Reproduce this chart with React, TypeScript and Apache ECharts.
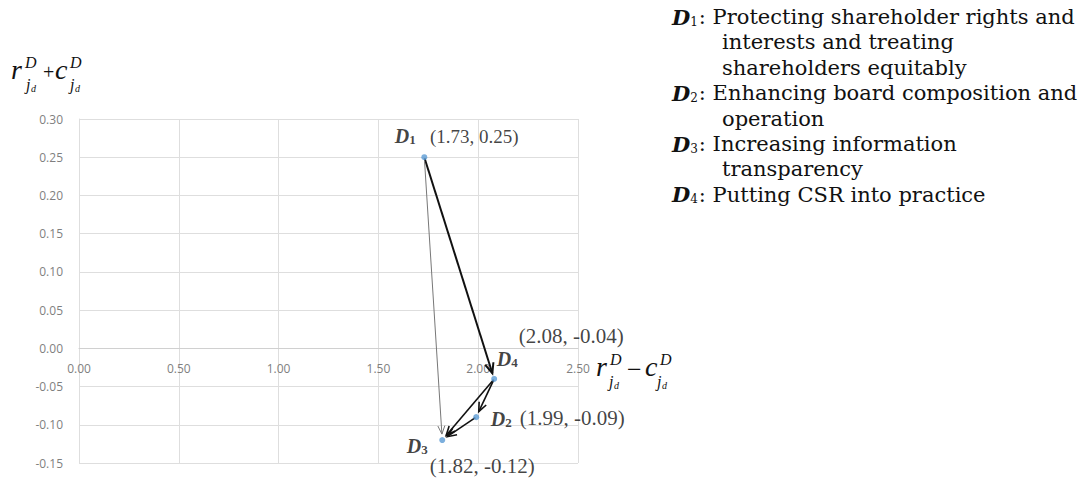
import React, { useEffect, useRef } from 'react';
import * as echarts from 'echarts';

// ---------- data ----------
const NODE_INDEX = ['1', '2', '3', '4'];
const R_MINUS_C = [1.73, 1.99, 1.82, 2.08];
const R_PLUS_C = [0.25, -0.09, -0.12, -0.04];

const EDGE_FROM = [0, 0, 3, 3, 1];
const EDGE_TO = [3, 2, 1, 2, 2];

const X_MIN = 0;
const X_MAX = 2.5;
const X_STEP = 0.5;
const Y_MIN = -0.15;
const Y_MAX = 0.3;
const Y_STEP = 0.05;

const LEGEND_KEYS = ['1', '', '', '2', '', '3', '', '4'];
const LEGEND_TEXTS = [
  ': Protecting shareholder rights and',
  'interests and treating',
  'shareholders equitably',
  ': Enhancing board composition and',
  'operation',
  ': Increasing information',
  'transparency',
  ': Putting CSR into practice',
];

// ---------- styles / layout (not data) ----------
const EDGE_COLOR = ['#111', '#777', '#111', '#111', '#111'];
const EDGE_WIDTH = [2, 1, 1.6, 1.6, 1.6];
const EDGE_HEAD = [11, 9, 10, 10, 10];
const NAME_OFFSETS = [[-19, -21], [25, 2], [-25, 6], [13, -20]];
const VALUE_OFFSETS = [[50, -21], [96, 1], [40, 26], [77, -43]];
const VALUE_SIZES = [19, 21, 21, 21];

const SERIF = '"Liberation Serif", "Times New Roman", serif';
const LEGEND_FONT = '"DejaVu Serif", serif';

type TitleLayout = {
  d: number; j: number; dd: number; op: number; opSize: number; c: number; d2: number; j2: number; dd2: number;
};

function mathTitle(x0: number, baseY: number, op: string, L: TitleLayout) {
  const it = (t: string, x: number, y: number, size: number, style = 'italic') => ({
    type: 'text',
    x,
    y,
    style: {
      text: t,
      font: `${style} ${size}px ${SERIF}`,
      fill: '#111',
      align: 'left',
      verticalAlign: 'middle',
    },
  });
  const b = baseY;
  return {
    type: 'group',
    children: [
      it('r', x0, b - 10, 28),
      it('D', x0 + L.d, b - 16.5, 16),
      it('j', x0 + L.j, b + 5, 16),
      it('d', x0 + L.dd, b + 9.5, 10),
      it(op, x0 + L.op, b - 7, L.opSize, 'normal'),
      it('c', x0 + L.c, b - 10, 28),
      it('D', x0 + L.d2, b - 16.5, 16),
      it('j', x0 + L.j2, b + 5, 16),
      it('d', x0 + L.dd2, b + 9.5, 10),
    ],
  };
}

const App: React.FC = () => {
  const ref = useRef<HTMLDivElement>(null);

  useEffect(() => {
    document.body.style.margin = '0';
    if (!ref.current) return;
    const chart = echarts.init(ref.current, undefined, { renderer: 'svg' });

    const edgeData = EDGE_FROM.map((f, i) => [
      R_MINUS_C[f],
      R_PLUS_C[f],
      R_MINUS_C[EDGE_TO[i]],
      R_PLUS_C[EDGE_TO[i]],
      i,
    ]);

    const nameData = R_MINUS_C.map((x, i) => ({
      value: [x, R_PLUS_C[i]],
      label: { offset: NAME_OFFSETS[i] },
    }));
    const valueData = R_MINUS_C.map((x, i) => ({
      value: [x, R_PLUS_C[i]],
      label: {
        offset: VALUE_OFFSETS[i],
        fontSize: VALUE_SIZES[i],
      },
    }));

    const legendGraphics = LEGEND_TEXTS.map((t, i) => {
      const key = LEGEND_KEYS[i];
      return {
        type: 'text',
        x: key ? 672 : 722,
        y: 17 + i * 25.4,
        style: {
          text: key ? `{b|D}{s|${key}}${t}` : t,
          font: `21px ${LEGEND_FONT}`,
          fill: '#111',
          align: 'left',
          verticalAlign: 'middle',
          rich: {
            b: {
              fontFamily: LEGEND_FONT,
              fontSize: 21,
              fontWeight: 'bold',
              fontStyle: 'italic',
              fill: '#111',
            },
            s: {
              fontFamily: LEGEND_FONT,
              fontSize: 12,
              fill: '#111',
              verticalAlign: 'bottom',
              padding: [0, 1, 0, 0],
            },
          },
        },
      };
    });

    const option: any = {
      animation: false,
      backgroundColor: '#fff',
      grid: {
        left: 79,
        right: 505,
        top: 119,
        bottom: 16,
        containLabel: false,
        outerBoundsMode: 'none',
      },
      xAxis: {
        type: 'value',
        min: X_MIN,
        max: X_MAX,
        interval: X_STEP,
        axisLine: { show: true, onZero: true, lineStyle: { color: '#d0d0d0', width: 1 } },
        axisTick: { show: false },
        splitLine: { show: true, lineStyle: { color: '#dedede', width: 1 } },
        axisLabel: {
          color: '#7f7f7f',
          fontSize: 12,
          fontFamily: '"Open Sans", sans-serif',
          margin: -101,
          formatter: (v: number) => v.toFixed(2),
        },
      },
      yAxis: {
        type: 'value',
        min: Y_MIN,
        max: Y_MAX,
        interval: Y_STEP,
        axisLine: { show: true, lineStyle: { color: '#dedede', width: 1 } },
        axisTick: { show: false },
        splitLine: { show: true, lineStyle: { color: '#dedede', width: 1 } },
        axisLabel: {
          color: '#7f7f7f',
          fontSize: 12,
          fontFamily: '"Open Sans", sans-serif',
          margin: 16,
          formatter: (v: number) => v.toFixed(2),
        },
      },
      series: [
        {
          type: 'custom',
          z: 3,
          encode: { x: [0, 2], y: [1, 3] },
          data: edgeData,
          renderItem: (params: any, api: any) => {
            const i = api.value(4);
            const p1 = api.coord([api.value(0), api.value(1)]);
            const p2 = api.coord([api.value(2), api.value(3)]);
            const dx = p2[0] - p1[0];
            const dy = p2[1] - p1[1];
            const len = Math.hypot(dx, dy);
            const ux = dx / len;
            const uy = dy / len;
            const startGap = i === 1 ? 4 : 1;
            const endGap = 6;
            const sx = p1[0] + ux * startGap;
            const sy = p1[1] + uy * startGap;
            const tx = p2[0] - ux * endGap;
            const ty = p2[1] - uy * endGap;
            const head = EDGE_HEAD[i];
            const ang = 0.4;
            const bx = -ux;
            const by = -uy;
            const w = (a: number) => [
              tx + head * (bx * Math.cos(a) - by * Math.sin(a)),
              ty + head * (bx * Math.sin(a) + by * Math.cos(a)),
            ];
            const style = { stroke: EDGE_COLOR[i], lineWidth: EDGE_WIDTH[i], fill: null };
            return {
              type: 'group',
              children: [
                { type: 'line', shape: { x1: sx, y1: sy, x2: tx, y2: ty }, style },
                { type: 'polyline', shape: { points: [w(ang), [tx, ty], w(-ang)] }, style },
              ],
            };
          },
        },
        {
          type: 'scatter',
          z: 5,
          symbolSize: 6,
          itemStyle: { color: '#5b9bd5' },
          data: nameData,
          label: {
            show: true,
            position: 'inside',
            align: 'center',
            verticalAlign: 'middle',
            formatter: (p: any) => `{b|D}{s|${NODE_INDEX[p.dataIndex]}}`,
            rich: {
              b: {
                fontFamily: SERIF,
                fontSize: 20,
                fontWeight: 'bold',
                fontStyle: 'italic',
                color: '#111',
              },
              s: {
                fontFamily: SERIF,
                fontSize: 13,
                fontWeight: 'bold',
                color: '#111',
                verticalAlign: 'bottom',
                padding: [6, 0, 0, 0],
              },
            },
          },
        },
        {
          type: 'scatter',
          z: 4,
          symbolSize: 0,
          silent: true,
          data: valueData,
          label: {
            show: true,
            position: 'inside',
            align: 'center',
            verticalAlign: 'middle',
            fontFamily: SERIF,
            color: '#111',
            formatter: (p: any) =>
              `(${p.value[0].toFixed(2)}, ${p.value[1].toFixed(2)})`,
          },
        },
      ],
      graphic: [
        mathTitle(11, 79, '+', { d: 14, j: 15, dd: 20, op: 32, opSize: 20, c: 44, d2: 59, j2: 59, dd2: 64 }),
        mathTitle(596, 376, '\u2212', { d: 14, j: 13, dd: 18, op: 31, opSize: 26, c: 49, d2: 64, j2: 61, dd2: 66 }),
        ...legendGraphics,
      ],
    };

    chart.setOption(option);
    return () => chart.dispose();
  }, []);

  return <div ref={ref} style={{ width: 1083, height: 479 }} />;
};

export default App;
